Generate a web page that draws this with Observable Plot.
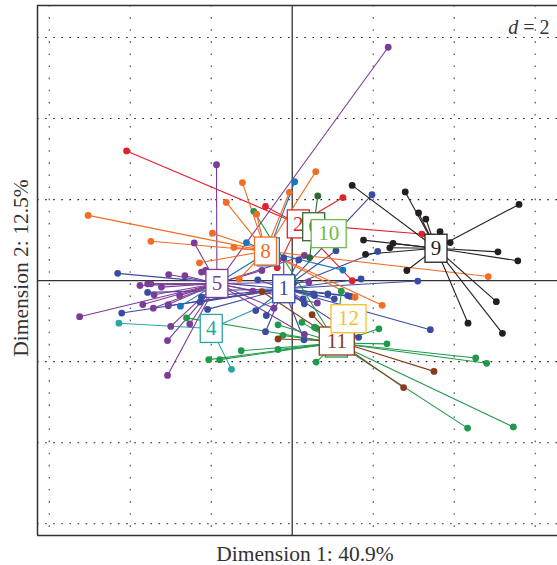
<!DOCTYPE html>
<html><head><meta charset="utf-8">
<script src="https://cdn.jsdelivr.net/npm/d3@7"></script>
<script src="https://cdn.jsdelivr.net/npm/@observablehq/plot@0.6"></script>
<style>body{margin:0;background:#fff} svg{display:block}</style>
</head><body><div id="chart"></div>
<script>
// cluster ids, colours and centroids
const clusterIds = [1,2,3,4,5,6,7,8,9,10,11,12];
const clusterColors = ["#3a4ca1","#e3212b","#1b75bb","#29a5a4","#7b3c97","#2d6a30","#1f994a","#f26c23","#231f20","#6cbd45","#8a3a1c","#f5bf2a"];
const centroidX = [-0.21, 0.15, -0.59, -2.0, -1.86, 0.53, 1.09, -0.66, 3.55, 0.90, 1.10, 1.39];
const centroidY = [-0.20, 1.40, 0.71, -1.18, -0.07, 1.33, -1.54, 0.73, 0.80, 1.16, -1.49, -0.94];
// order in which labels are stacked (last on top)
const labelOrder = [3,8,2,6,10,1,5,4,9,7,11,12];

// individuals of each cluster [dim1, dim2]
const c1 = [[1.97,2.12],[2.11,0.72],[1.08,0.74],[1.70,0.04],[3.10,-0.01],[3.41,-1.21],[1.64,-1.40],[1.44,-0.39],[-4.31,0.18],[-3.57,-0.29],[-4.21,-0.80],[-2.28,-0.53],[-2.09,-0.71],[-2.24,-0.41],[-3.06,-0.62],[-0.21,0.56],[0.16,0.51],[-0.85,0.02],[0.27,-0.45],[0.55,-0.37],[0.29,-1.46],[-0.66,-1.26],[-0.64,-0.86],[-0.90,-0.74],[0.53,-0.33],[0.30,-0.57],[0.03,-0.07],[1.04,-0.45],[1.37,-0.37],[0.88,-0.33]];
const c2 = [[-4.09,3.20],[-0.66,1.83],[1.25,2.05],[3.20,1.15],[-0.37,0.32],[1.48,0.0]];
const c3 = [[0.06,2.44],[-1.13,0.94],[-2.76,-0.63],[1.25,0.26]];
const c4 = [[-4.28,-1.05],[-1.50,-2.19],[-0.10,-0.35]];
const c5 = [[2.37,5.76],[-1.87,2.86],[-2.42,0.93],[-3.05,0.15],[-2.65,0.12],[-3.76,-0.12],[-3.57,-0.08],[-3.49,-0.08],[-3.23,-0.16],[-3.41,-0.35],[-3.69,-0.59],[-3.43,-0.68],[-3.06,-0.59],[-2.78,-0.37],[-5.25,-0.89],[-3.00,-1.13],[-3.08,-1.48],[-3.08,-2.34],[-2.24,0.21],[-0.75,0.25],[-2.14,0.25],[-2.53,-1.07],[0.62,-0.55],[0.30,-1.33],[-0.45,-0.68],[-0.97,-0.26],[0.41,-0.04],[0.30,0.62]];
const c6 = [[0.63,2.09],[0.43,0.57]];
const c7 = [[-0.95,1.71],[-2.61,-0.92],[-2.06,-1.95],[-1.79,-1.95],[-1.26,-1.73],[-0.35,-1.70],[-0.35,-1.09],[-0.23,-1.35],[0.24,-1.03],[0.59,-2.01],[1.21,-0.26],[2.14,-1.19],[2.34,-1.56],[4.53,-1.91],[4.80,-2.04],[4.33,-3.64],[5.46,-3.61],[0.59,-1.17],[0.55,-1.15]];
const c8 = [[-5.04,1.61],[-3.49,0.97],[-1.97,1.17],[-1.63,1.93],[-1.23,2.42],[-1.44,0.82],[-2.29,0.44],[-0.88,1.64],[-1.31,0.04],[-0.07,2.18],[0.58,2.69],[4.84,0.10],[2.22,-0.61],[1.55,-0.41]];
const c9 = [[1.48,2.35],[2.79,2.19],[3.12,1.67],[3.30,1.52],[3.65,1.21],[3.90,0.94],[5.60,1.88],[5.08,0.71],[5.57,0.49],[1.76,1.00],[2.49,0.92],[2.41,0.81],[1.81,0.65],[2.83,0.25],[4.34,-1.05],[5.04,-0.52],[5.19,-1.30]];
const c10 = [];
const c11 = [[-0.75,-0.27],[-0.35,-1.44],[0.49,-0.84],[2.75,-2.64],[3.50,-2.24]];
const c12 = [];
const gridTicks = [-6,-4,-2,2,4,6];
const xDomain = [-6.29, 6.55];
const yDomain = [-6.29, 6.79];
const xLabel = "Dimension 1: 40.9%";
const yLabel = "Dimension 2: 12.5%";

const members = [c1,c2,c3,c4,c5,c6,c7,c8,c9,c10,c11,c12];
const pts = [];
members.forEach((arr, i) => arr.forEach(([x, y]) => pts.push({
  cluster: clusterIds[i], x, y, cx: centroidX[i], cy: centroidY[i], color: clusterColors[i]
})));
const labels = labelOrder.map(id => {
  const i = clusterIds.indexOf(id);
  return {id, x: centroidX[i], y: centroidY[i], color: clusterColors[i], text: String(id)};
});

const serif = "'Liberation Serif', 'DejaVu Serif', serif";
const W = 557, H = 565;
const chart = Plot.plot({
  width: W, height: H,
  marginLeft: 37, marginRight: 0, marginTop: 5, marginBottom: 30,
  x: {domain: xDomain, axis: null},
  y: {domain: yDomain, axis: null},
  style: {background: "#fff", fontFamily: serif, overflow: "hidden"},
  marks: [
    Plot.ruleX(gridTicks, {stroke: "#444", strokeWidth: 1.1, strokeDasharray: "1.6,10.5"}),
    Plot.ruleY(gridTicks, {stroke: "#222", strokeWidth: 1.1, strokeDasharray: "1.6,6.5"}),
    Plot.ruleX([0], {stroke: "#333", strokeWidth: 1.3}),
    Plot.ruleY([0], {stroke: "#333", strokeWidth: 1.3}),
    Plot.link(pts, {x1: "x", y1: "y", x2: "cx", y2: "cy", stroke: "color", strokeWidth: 1.1}),
    Plot.dot(pts, {x: "x", y: "y", fill: "color", r: 3.4, stroke: "none"}),
    Plot.text(labels, {x: "x", y: "y", text: "text", fill: "color", fontSize: 21, fontFamily: serif, className: "clabel"}),
    // open frame: left, top and bottom borders (right edge runs off the picture)
    Plot.ruleX([xDomain[0]], {stroke: "#333", strokeWidth: 1.5}),
    Plot.ruleY(yDomain, {stroke: "#333", strokeWidth: 1.5}),
    Plot.text(["d = 2"], {frameAnchor: "top-right", dx: -8, dy: 14, text: d => d, fontSize: 20, fill: "#333", textAnchor: "end", className: "dlab"})
  ]
});
document.getElementById("chart").appendChild(chart);

const svg = d3.select(chart);
const sx = chart.scale("x"), sy = chart.scale("y");
// boxes behind each centroid label
svg.selectAll("g.clabel text").each(function(d, k) {
  const L = labels[k];
  const w = L.text.length > 1 ? 35 : 22, h = 28;
  const px = sx.apply(L.x), py = sy.apply(L.y);
  const r = document.createElementNS("http://www.w3.org/2000/svg", "rect");
  r.setAttribute("x", px - w / 2); r.setAttribute("y", py - h / 2);
  r.setAttribute("width", w); r.setAttribute("height", h);
  r.setAttribute("fill", "#fff"); r.setAttribute("stroke", L.color); r.setAttribute("stroke-width", 1.3);
  this.parentNode.insertBefore(r, this);
});
// d = 2 with italic d, placed at the top right corner
svg.selectAll("g.dlab text").each(function() {
  const t = d3.select(this); t.text("");
  t.attr("text-anchor", "end");
  t.append("tspan").attr("font-style", "italic").text("d");
  t.append("tspan").attr("dx", 5).text("=");
  t.append("tspan").attr("dx", 5).text("2");
});
svg.append("text").attr("x", 305).attr("y", 561).attr("text-anchor", "middle")
  .attr("font-family", serif).attr("font-size", 21.5).attr("fill", "#333").text(xLabel);
svg.append("text").attr("transform", "translate(28,268) rotate(-90)").attr("text-anchor", "middle")
  .attr("font-family", serif).attr("font-size", 21.5).attr("fill", "#333").text(yLabel);
</script>
</body></html>
